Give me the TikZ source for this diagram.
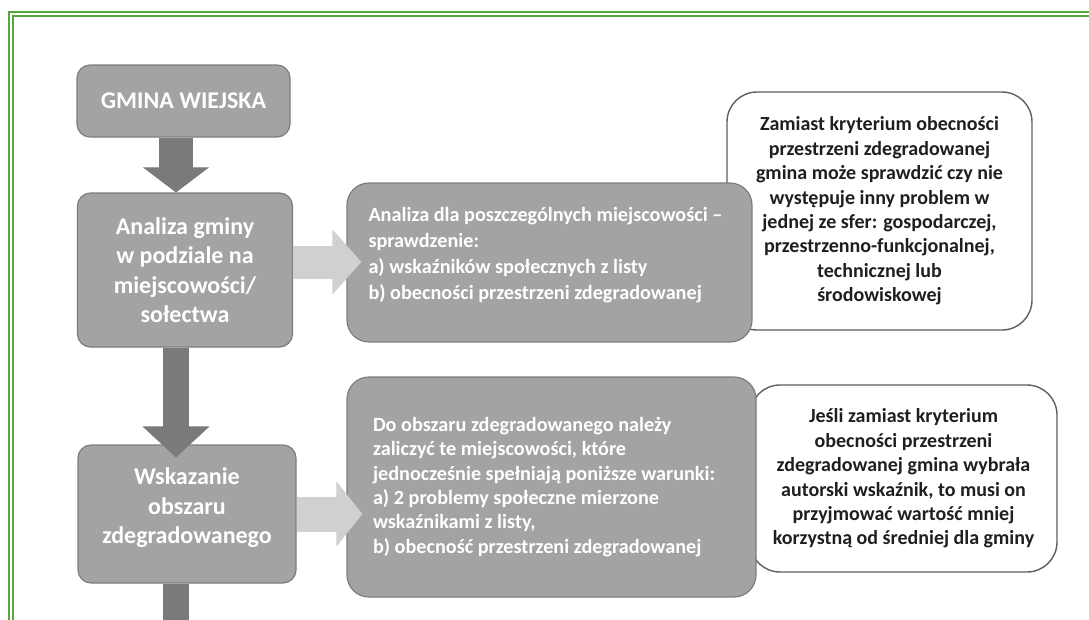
\documentclass[tikz,border=0pt]{standalone}
\usepackage{fontspec}
\setmainfont{Carlito}
\usetikzlibrary{arrows.meta, calc}

\definecolor{boxgray}{RGB}{163,163,163}
\definecolor{boxedge}{RGB}{125,125,125}
\definecolor{arrowdark}{RGB}{122,122,122}
\definecolor{arrowlight}{RGB}{208,208,208}
\definecolor{noteedge}{RGB}{95,95,95}
\definecolor{frame}{RGB}{88,166,60}

\tikzset{
    stage/.style={draw=boxedge, fill=boxgray, line width=1.2pt, rounded corners=13pt,
        text=white, font=\bfseries\fontsize{24}{29.5}\selectfont, align=center, inner sep=0pt},
    detail/.style={draw=boxedge, fill=boxgray, line width=1.2pt, rounded corners=22pt,
        text=white, font=\bfseries\fontsize{20.2}{24.4}\selectfont, align=left, inner sep=0pt,
        text width=357pt, execute at begin node={\spaceskip=0pt\xspaceskip=0pt\relax}},
    note/.style={draw=noteedge, fill=white, line width=1.4pt, rounded corners=30pt,
        text={black!88}, font=\bfseries\fontsize{20}{24.4}\selectfont, align=center, inner sep=0pt},
    down/.style={draw=arrowdark, line width=#1},
    right/.style={draw=arrowlight, line width=#1}
}

\begin{document}
\begin{tikzpicture}[x=1pt, y=-1pt]
    \useasboundingbox (0,0) rectangle (1089,619);
    \clip (0,0) rectangle (1089,619);
    \fill[white] (0,0) rectangle (1089,619);

    % Frame (double green line)
    \draw[frame, line width=2pt] (9,12) rectangle (1120,650);
    \draw[frame, line width=2pt] (13,16) rectangle (1120,650);

    % Notes behind the grey boxes
    \node[note, minimum width=305pt, minimum height=238pt] (uwagaA) at (879.5,211)
        {Zamiast kryterium obecności\\ przestrzeni zdegradowanej\\ gmina może sprawdzić czy nie\\
         występuje inny problem w\\ jednej ze sfer: gospodarczej,\\ przestrzenno-funkcjonalnej,\\
         technicznej lub\\ środowiskowej};
    \node[note, minimum width=307pt, minimum height=187pt] (uwagaB) at (903.5,478.5)
        {Jeśli zamiast kryterium\\ obecności przestrzeni\\ zdegradowanej gmina wybrała\\
         autorski wskaźnik, to musi on\\ przyjmować wartość mniej\\ korzystną od średniej dla gminy};

    % Main stages
    \node[stage, minimum width=213pt, minimum height=72pt] (gmina) at (183.5,101) {GMINA WIEJSKA};
    \node[stage, minimum width=215pt, minimum height=154pt] (analiza) at (185,270)
        {Analiza gminy\\ w podziale na\\ miejscowości/\\ sołectwa};
    \node[stage, minimum width=218pt, minimum height=138pt] (wskazanie) at (187,514)
        {Wskazanie\\ obszaru\\ zdegradowanego\\[-13pt]\mbox{}};

    % Details
    \node[detail, minimum width=405pt, minimum height=159pt, text width=362pt] (sprawdzenie) at (549.5,262.5)
        {\fontsize{20.2}{26}\selectfont Analiza dla poszczególnych miejscowości~–\\ sprawdzenie:\\
         a) wskaźników społecznych z listy\\ b) obecności przestrzeni zdegradowanej\\[-7pt]\mbox{}};
    \node[detail, minimum width=409pt, minimum height=220pt] (warunki) at (551.5,487)
        {Do obszaru zdegradowanego należy\\ zaliczyć te miejscowości, które\\
         jednocześnie spełniają poniższe warunki:\\ a) 2 problemy społeczne mierzone\\
         wskaźnikami z listy,\\ b) obecność przestrzeni zdegradowanej};

    % Block arrows
    \coordinate (spine) at (176,0);
    \coordinate (bottom) at (176,640);
    \draw[down=34pt, -{Triangle[width=66pt, length=25pt, line width=0.8pt, fill=arrowdark]}]
        (gmina.south -| spine) -- (analiza.north -| spine);
    \draw[down=26pt, shorten >=-13pt, -{Triangle[width=67pt, length=31pt, line width=0.8pt, fill=arrowdark]}]
        (analiza.south -| spine) -- (wskazanie.north -| spine);
    \draw[down=26pt] (wskazanie.south -| spine) -- (bottom);

    \draw[right=33pt, shorten >=-15pt, -{Triangle[width=65pt, length=29pt, line width=0.8pt, fill=arrowlight]}]
        ($(analiza.east)+(0,-8)$) -- ($(sprawdzenie.west)+(0,-0.5)$);
    \draw[right=35pt, shorten >=-16pt, -{Triangle[width=65pt, length=26pt, line width=0.8pt, fill=arrowlight]}]
        (wskazanie.east) -- (wskazanie.east -| warunki.west);
\end{tikzpicture}
\end{document}
